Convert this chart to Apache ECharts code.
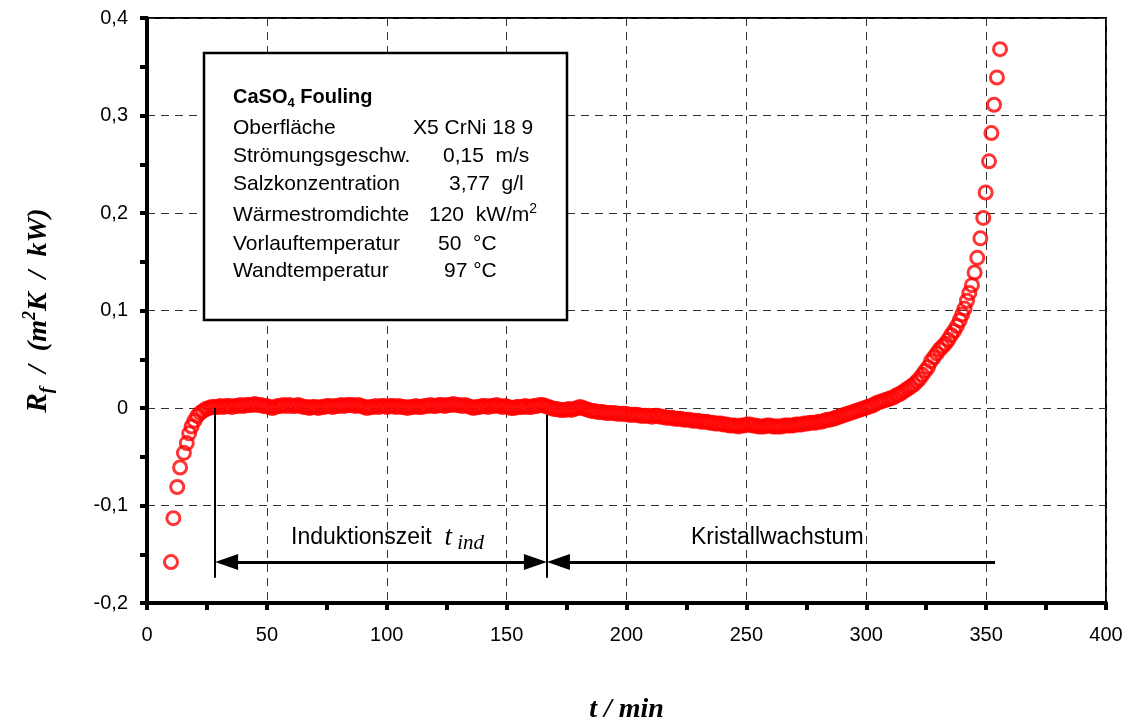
<!DOCTYPE html>
<html><head><meta charset="utf-8">
<script src="https://cdn.jsdelivr.net/npm/echarts@6/dist/echarts.min.js"></script>
<style>html,body{margin:0;padding:0;background:#fff}#c{width:1136px;height:720px}</style>
</head><body><div id="c"></div>
<script>
// ---- tick labels ----
const xTickValues = [0, 50, 100, 150, 200, 250, 300, 350, 400];
const xTickLabels = ['0', '50', '100', '150', '200', '250', '300', '350', '400'];
const yTickValues = [-0.2, -0.1, 0, 0.1, 0.2, 0.3, 0.4];
const yTickLabels = ['-0,2', '-0,1', '0', '0,1', '0,2', '0,3', '0,4'];

// ---- data: [t (min), Rf (m²K/kW)] ----
const anlauf = [
  [10.0,-0.158],[11.0,-0.113],[12.6,-0.081],[13.8,-0.061],[15.4,-0.046],[16.6,-0.036],
  [17.6,-0.026],[18.6,-0.019],[19.8,-0.013],[21.0,-0.008],[22.2,-0.005],[23.4,-0.003],
  [24.6,-0.001],[25.8,0.000],[27.0,0.001]
];
const induktion = [
  [28.2,0.001],[29.4,0.001],[30.6,0.002],[31.8,0.001],[33.0,0.002],[34.2,0.002],[35.4,0.001],
  [36.6,0.002],[37.8,0.002],[39.0,0.003],[40.2,0.002],[41.4,0.003],[42.6,0.003],[43.8,0.003],
  [45.0,0.004],[46.2,0.003],[47.4,0.003],[48.6,0.002],[49.8,0.002],[51.0,0.001],[52.2,0.000],
  [53.4,0.001],[54.6,0.002],[55.8,0.002],[57.0,0.003],[58.2,0.002],[59.4,0.003],[60.6,0.002],
  [61.8,0.002],[63.0,0.003],[64.2,0.002],[65.4,0.001],[66.6,0.001],[67.8,0.000],[69.0,0.001],
  [70.2,0.001],[71.4,0.000],[72.6,0.001],[73.8,0.001],[75.0,0.002],[76.2,0.002],[77.4,0.001],
  [78.6,0.002],[79.8,0.002],[81.0,0.003],[82.2,0.002],[83.4,0.003],[84.6,0.003],[85.8,0.003],
  [87.0,0.002],[88.2,0.003],[89.4,0.002],[90.6,0.001],[91.8,0.000],[93.0,0.001],[94.2,0.001],
  [95.4,0.002],[96.6,0.001],[97.8,0.002],[99.0,0.002],[100.2,0.001],[101.4,0.002],[102.6,0.002],
  [103.8,0.001],[105.0,0.002],[106.2,0.001],[107.4,0.001],[108.6,0.000],[109.8,0.001],[111.0,0.001],
  [112.2,0.002],[113.4,0.001],[114.6,0.001],[115.8,0.002],[117.0,0.002],[118.2,0.003],[119.4,0.002],
  [120.6,0.002],[121.8,0.003],[123.0,0.003],[124.2,0.002],[125.4,0.003],[126.6,0.003],[127.8,0.004],
  [129.0,0.003],[130.2,0.003],[131.4,0.002],[132.6,0.003],[133.8,0.002],[135.0,0.001],[136.2,0.000],
  [137.4,0.001],[138.6,0.001],[139.8,0.002],[141.0,0.002],[142.2,0.001],[143.4,0.002],[144.6,0.002],
  [145.8,0.003],[147.0,0.002],[148.2,0.001],[149.4,0.002],[150.6,0.001],[151.8,0.000],[153.0,0.000],
  [154.2,0.001],[155.4,0.001],[156.6,0.001],[157.8,0.002],[159.0,0.001],[160.2,0.001],[161.4,0.002],
  [162.6,0.002],[163.8,0.003],[165.0,0.003],[166.2,0.002]
];
const abfall = [
  [167.4,0.001],[168.6,0.000],[169.8,-0.001],[171.0,-0.001],[172.2,-0.002],[173.4,-0.002],
  [174.6,-0.002],[175.8,-0.001],[177.0,-0.002],[178.2,-0.001],[179.4,0.000],[180.6,0.001],
  [181.8,0.000],[183.0,-0.001],[184.2,-0.002],[185.4,-0.003],[186.6,-0.003],[187.8,-0.004],
  [189.0,-0.004],[190.2,-0.004],[191.4,-0.005],[192.6,-0.005],[193.8,-0.005],[195.0,-0.005],
  [196.2,-0.006],[197.4,-0.006],[198.6,-0.006],[199.8,-0.006],[201.0,-0.007],[202.2,-0.007],
  [203.4,-0.007],[204.6,-0.007],[205.8,-0.008],[207.0,-0.008],[208.2,-0.008],[209.4,-0.008],
  [210.6,-0.009],[211.8,-0.008],[213.0,-0.008],[214.2,-0.009],[215.4,-0.009],[216.6,-0.010],
  [217.8,-0.010],[219.0,-0.010],[220.2,-0.011],[221.4,-0.011],[222.6,-0.011],[223.8,-0.012],
  [225.0,-0.012],[226.2,-0.012],[227.4,-0.013],[228.6,-0.013],[229.8,-0.013],[231.0,-0.014],
  [232.2,-0.014],[233.4,-0.014],[234.6,-0.015],[235.8,-0.015],[237.0,-0.016],[238.2,-0.016],
  [239.4,-0.016],[240.6,-0.017],[241.8,-0.017],[243.0,-0.018],[244.2,-0.018],[245.4,-0.018],
  [246.6,-0.019],[247.8,-0.018],[249.0,-0.018],[250.2,-0.017],[251.4,-0.017],[252.6,-0.018],
  [253.8,-0.018],[255.0,-0.019],[256.2,-0.019],[257.4,-0.019],[258.6,-0.018],[259.8,-0.018],
  [261.0,-0.019],[262.2,-0.019],[263.4,-0.019],[264.6,-0.019],[265.8,-0.018],[267.0,-0.018],
  [268.2,-0.018],[269.4,-0.018],[270.6,-0.017],[271.8,-0.017],[273.0,-0.017],[274.2,-0.016],
  [275.4,-0.016],[276.6,-0.015],[277.8,-0.015],[279.0,-0.015],[280.2,-0.014],[281.4,-0.014],
  [282.6,-0.013],[283.8,-0.012],[285.0,-0.012],[286.2,-0.011],[287.4,-0.010],[288.6,-0.009],
  [289.8,-0.008],[291.0,-0.007],[292.2,-0.006],[293.4,-0.005],[294.6,-0.004],[295.8,-0.003],
  [297.0,-0.002],[298.2,-0.001],[299.4,0.000]
];
const wachstum = [
  [300.6,0.001],[301.8,0.002],[303.0,0.003],[304.2,0.005],[305.4,0.006],[306.6,0.007],
  [307.8,0.008],[309.0,0.009],[310.2,0.010],[311.4,0.011],[312.6,0.013],[313.8,0.014],
  [315.0,0.016],[316.2,0.018],[317.4,0.020],[318.6,0.022],[319.8,0.024],[321.0,0.027],
  [322.2,0.030],[323.4,0.034],[324.6,0.038],[325.8,0.042],[327.0,0.048],[328.2,0.052],
  [329.4,0.056],[330.6,0.060],[331.8,0.063],[333.0,0.066],[334.2,0.070],[335.4,0.075],
  [336.6,0.079],[337.8,0.084],[339.0,0.090],[340.0,0.096],[341.0,0.102],[342.0,0.110],
  [343.0,0.118],[344.1,0.126],[345.2,0.139],[346.3,0.154],[347.6,0.174],[348.8,0.195],
  [349.8,0.221],[351.2,0.253],[352.2,0.282],[353.3,0.311],[354.5,0.339],[355.8,0.368]
];

// ---- annotation positions (data units) ----
const phaseTimes = [28.4, 166.8, 353.7];   // start induction, end induction, end of growth arrow
const arrowInset = 4.8;                    // half arrow-head length, so the tips touch the guides
const guideTops = [0.0, -0.007];
const guideBottom = -0.174;
const arrowLevel = -0.158;

const chart = echarts.init(document.getElementById('c'));
const sans = 'Liberation Sans, Arial, sans-serif';
const serif = 'Liberation Serif, Times New Roman, serif';

function lab(values, labels) {
  return v => {
    for (let i = 0; i < values.length; i++) if (Math.abs(values[i] - v) < 1e-6) return labels[i];
    return '';
  };
}
const titleFont = { fontFamily: serif, fontStyle: 'italic', fontWeight: 'bold', color: '#000', lineHeight: 36 };

const option = {
  backgroundColor: '#fff',
  animation: false,
  grid: { left: 147, right: 30, top: 18, bottom: 117, outerBoundsMode: 'none', containLabel: false,
          show: true, borderColor: '#000', borderWidth: 2, backgroundColor: 'transparent' },
  xAxis: {
    type: 'value', min: 0, max: 400, interval: 50,
    name: '{t|t / min}', nameLocation: 'middle', nameGap: 89,
    nameTextStyle: { rich: { t: Object.assign({}, titleFont, { fontSize: 28 }) } },
    axisLine: { show: true, onZero: false, lineStyle: { color: '#000', width: 4 } },
    axisTick: { show: true, inside: false, length: 7, lineStyle: { color: '#000', width: 4 } },
    minorTick: { show: true, splitNumber: 2, length: 7, lineStyle: { color: '#000', width: 4 } },
    axisLabel: { fontFamily: sans, fontSize: 20, color: '#000', margin: 22, formatter: lab(xTickValues, xTickLabels) },
    splitLine: { show: true, lineStyle: { color: '#333', width: 1, type: [8, 6] } }
  },
  yAxis: {
    type: 'value', min: -0.2, max: 0.4, interval: 0.1,
    name: '{r|R}{f|f}{n|  /  (m}{s|2}{n|K  /  kW)}', nameLocation: 'middle', nameGap: 90,
    nameTextStyle: { rich: {
      r: Object.assign({}, titleFont, { fontSize: 29 }),
      f: Object.assign({}, titleFont, { fontSize: 19, verticalAlign: 'bottom' }),
      n: Object.assign({}, titleFont, { fontSize: 28 }),
      s: Object.assign({}, titleFont, { fontSize: 18, verticalAlign: 'top' })
    } },
    axisLine: { show: true, onZero: false, lineStyle: { color: '#000', width: 4 } },
    axisTick: { show: true, inside: false, length: 7, lineStyle: { color: '#000', width: 4 } },
    minorTick: { show: true, splitNumber: 2, length: 7, lineStyle: { color: '#000', width: 4 } },
    axisLabel: { fontFamily: sans, fontSize: 20, color: '#000', margin: 19, formatter: lab(yTickValues, yTickLabels) },
    splitLine: { show: true, lineStyle: { color: '#333', width: 1, type: [8, 6] } }
  },
  series: [
    {
      name: 'Rf', type: 'scatter', silent: true,
      data: anlauf.concat(induktion, abfall, wachstum),
      symbol: 'circle', symbolSize: 13,
      itemStyle: { color: 'rgba(255,255,255,0)', borderColor: '#ff0000', borderWidth: 3 },
      z: 3
    },
    {
      type: 'scatter', data: [], silent: true,
      markLine: {
        silent: true, animation: false, symbol: 'none', label: { show: false },
        lineStyle: { color: '#000', width: 2, type: 'solid' },
        data: [
          [{ coord: [phaseTimes[0], guideTops[0]] }, { coord: [phaseTimes[0], guideBottom] }],
          [{ coord: [phaseTimes[1], guideTops[1]] }, { coord: [phaseTimes[1], guideBottom] }]
        ]
      }
    },
    {
      type: 'scatter', data: [], silent: true,
      markLine: {
        silent: true, animation: false, symbol: ['triangle', 'triangle'], symbolSize: [16, 23],
        label: { show: false },
        lineStyle: { color: '#000', width: 3, type: 'solid' },
        data: [
          [{ coord: [phaseTimes[0] + arrowInset, arrowLevel] }, { coord: [phaseTimes[1] - arrowInset, arrowLevel] }]
        ]
      }
    },
    {
      type: 'scatter', data: [], silent: true,
      markLine: {
        silent: true, animation: false, symbol: ['triangle', 'none'], symbolSize: [16, 23],
        label: { show: false },
        lineStyle: { color: '#000', width: 3, type: 'solid' },
        data: [
          [{ coord: [phaseTimes[1] + arrowInset, arrowLevel] }, { coord: [phaseTimes[2], arrowLevel] }]
        ]
      }
    }
  ],
  graphic: [
    { type: 'rect', shape: { x: 204, y: 53, width: 363, height: 267 }, style: { fill: '#fff', stroke: '#000', lineWidth: 2.5 }, z: 10 },
    { type: 'text', x: 233, y: 97, z: 11, style: { text: '{b|CaSO}{sb|4}{b| Fouling}', verticalAlign: 'middle', rich: {
      b: { fontFamily: sans, fontWeight: 'bold', fontSize: 20, fill: '#000', lineHeight: 26 },
      sb: { fontFamily: sans, fontWeight: 'bold', fontSize: 13, fill: '#000', verticalAlign: 'bottom', lineHeight: 26 }
    } } },
    { type: 'text', x: 233, y: 128, z: 11, style: { text: 'Oberfläche', font: '21px ' + sans, fill: '#000', verticalAlign: 'middle' } },
    { type: 'text', x: 413, y: 128, z: 11, style: { text: 'X5 CrNi 18 9', font: '21px ' + sans, fill: '#000', verticalAlign: 'middle' } },
    { type: 'text', x: 233, y: 156, z: 11, style: { text: 'Strömungsgeschw.', font: '21px ' + sans, fill: '#000', verticalAlign: 'middle' } },
    { type: 'text', x: 443, y: 156, z: 11, style: { text: '0,15  m/s', font: '21px ' + sans, fill: '#000', verticalAlign: 'middle' } },
    { type: 'text', x: 233, y: 184, z: 11, style: { text: 'Salzkonzentration', font: '21px ' + sans, fill: '#000', verticalAlign: 'middle' } },
    { type: 'text', x: 449, y: 184, z: 11, style: { text: '3,77  g/l', font: '21px ' + sans, fill: '#000', verticalAlign: 'middle' } },
    { type: 'text', x: 233, y: 215, z: 11, style: { text: 'Wärmestromdichte', font: '21px ' + sans, fill: '#000', verticalAlign: 'middle' } },
    { type: 'text', x: 429, y: 215, z: 11, style: { text: '{n|120  kW/m}{s|2}', verticalAlign: 'middle', rich: {
      n: { fontFamily: sans, fontSize: 21, fill: '#000', lineHeight: 26 },
      s: { fontFamily: sans, fontSize: 14, fill: '#000', verticalAlign: 'top', lineHeight: 26 }
    } } },
    { type: 'text', x: 233, y: 244, z: 11, style: { text: 'Vorlauftemperatur', font: '21px ' + sans, fill: '#000', verticalAlign: 'middle' } },
    { type: 'text', x: 438, y: 244, z: 11, style: { text: '50  °C', font: '21px ' + sans, fill: '#000', verticalAlign: 'middle' } },
    { type: 'text', x: 233, y: 271, z: 11, style: { text: 'Wandtemperatur', font: '21px ' + sans, fill: '#000', verticalAlign: 'middle' } },
    { type: 'text', x: 444, y: 271, z: 11, style: { text: '97 °C', font: '21px ' + sans, fill: '#000', verticalAlign: 'middle' } },
    { type: 'text', x: 291, y: 538, z: 11, style: { text: '{a|Induktionszeit  }{t|t}{s| ind}', verticalAlign: 'middle', rich: {
      a: { fontFamily: sans, fontSize: 23, fill: '#000', lineHeight: 32 },
      t: { fontFamily: serif, fontStyle: 'italic', fontSize: 27, fill: '#000', lineHeight: 32 },
      s: { fontFamily: serif, fontStyle: 'italic', fontSize: 21, fill: '#000', verticalAlign: 'bottom', lineHeight: 32 }
    } } },
    { type: 'text', x: 691, y: 538, z: 11, style: { text: 'Kristallwachstum', font: '23px ' + sans, fill: '#000', verticalAlign: 'middle' } }
  ]
};
chart.setOption(option);
</script>
</body></html>
